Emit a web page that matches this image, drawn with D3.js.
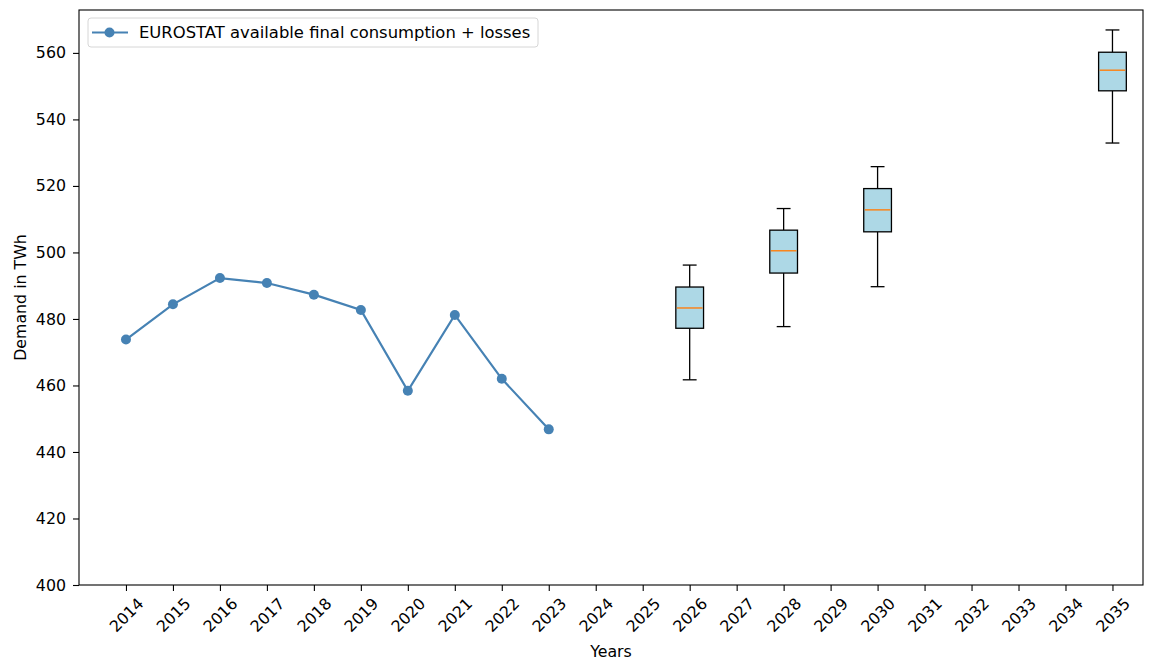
<!DOCTYPE html>
<html>
<head>
<meta charset="utf-8">
<script src="https://cdn.jsdelivr.net/npm/d3@7"></script>
<style>
  html, body { margin: 0; padding: 0; background: #fff; }
  svg { display: block; font-family: "DejaVu Sans", sans-serif; }
</style>
</head>
<body>
<svg id="chart" width="1155" height="660"></svg>
<script>
// Historical demand (EUROSTAT available final consumption + losses), TWh
const histYears = [2014, 2015, 2016, 2017, 2018, 2019, 2020, 2021, 2022, 2023];
const histValues = [473.8, 484.4, 492.3, 490.8, 487.3, 482.7, 458.4, 481.2, 462.0, 446.8];

// Projected demand distributions per target year, TWh
const boxYears = [2026, 2028, 2030, 2035];
const boxWhiskerLow = [461.7, 477.7, 489.7, 532.9];
const boxQ1 = [477.2, 493.8, 506.2, 548.6];
const boxMedian = [483.3, 500.5, 512.8, 554.8];
const boxQ3 = [489.6, 506.7, 519.2, 560.2];
const boxWhiskerHigh = [496.2, 513.2, 525.8, 566.9];

// Axis ticks
const xTickYears = d3.range(2014, 2036);
const yTicks = [400, 420, 440, 460, 480, 500, 520, 540, 560];

const legendLabel = "EUROSTAT available final consumption + losses";

const svg = d3.select("#chart");
const margin = { left: 79, right: 1143, top: 10, bottom: 585 };

const x = d3.scaleLinear().domain([2013, 2035.65]).range([margin.left, margin.right]);
const y = d3.scaleLinear().domain([400, 572.9]).range([margin.bottom, margin.top]);

const fontSize = 16.4;
const tickFont = 15.8;
const lineColor = "#4682b4";

// Axes
const xAxis = svg.append("g")
  .attr("transform", `translate(0,${margin.bottom})`)
  .call(d3.axisBottom(x).tickValues(xTickYears).tickFormat(d3.format("d")).tickSize(6).tickPadding(4));
xAxis.select(".domain").remove();
xAxis.selectAll(".tick line").attr("stroke", "#000").attr("stroke-width", 1.1);
xAxis.selectAll(".tick text")
  .attr("y", null).attr("dy", null)
  .attr("font-size", tickFont)
  .attr("font-family", "DejaVu Sans")
  .attr("fill", "#000")
  .attr("text-anchor", "middle")
  .attr("dominant-baseline", "central")
  .attr("transform", "translate(0,30) rotate(-45)");

const yAxis = svg.append("g")
  .attr("transform", `translate(${margin.left},0)`)
  .call(d3.axisLeft(y).tickValues(yTicks).tickFormat(d3.format("d")).tickSize(6).tickPadding(7));
yAxis.select(".domain").remove();
yAxis.selectAll(".tick line").attr("stroke", "#000").attr("stroke-width", 1.1);
yAxis.selectAll(".tick text")
  .attr("font-size", tickFont)
  .attr("font-family", "DejaVu Sans")
  .attr("fill", "#000");

// Axis titles
svg.append("text")
  .attr("x", (margin.left + margin.right) / 2)
  .attr("y", 657)
  .attr("text-anchor", "middle")
  .attr("font-size", tickFont)
  .attr("fill", "#000")
  .text("Years");

svg.append("text")
  .attr("transform", `translate(26,${(margin.top + margin.bottom) / 2}) rotate(-90)`)
  .attr("text-anchor", "middle")
  .attr("font-size", tickFont)
  .attr("fill", "#000")
  .text("Demand in TWh");

// Historical line with markers
const hist = histYears.map((yr, i) => ({ yr, v: histValues[i] }));
svg.append("path")
  .datum(hist)
  .attr("fill", "none")
  .attr("stroke", lineColor)
  .attr("stroke-width", 2.2)
  .attr("d", d3.line().x(d => x(d.yr)).y(d => y(d.v)));
svg.append("g").selectAll("circle")
  .data(hist)
  .join("circle")
  .attr("cx", d => x(d.yr))
  .attr("cy", d => y(d.v))
  .attr("r", 5)
  .attr("fill", lineColor);

// Box plots
const boxes = boxYears.map((yr, i) => ({
  yr,
  lo: boxWhiskerLow[i], q1: boxQ1[i], med: boxMedian[i], q3: boxQ3[i], hi: boxWhiskerHigh[i]
}));
const boxWidth = 0.59;
const capWidth = boxWidth / 2;
const strokeW = 1.3;
const bg = svg.append("g").selectAll("g").data(boxes).join("g");
bg.append("line")
  .attr("x1", d => x(d.yr)).attr("x2", d => x(d.yr))
  .attr("y1", d => y(d.lo)).attr("y2", d => y(d.q1))
  .attr("stroke", "#000").attr("stroke-width", strokeW);
bg.append("line")
  .attr("x1", d => x(d.yr)).attr("x2", d => x(d.yr))
  .attr("y1", d => y(d.q3)).attr("y2", d => y(d.hi))
  .attr("stroke", "#000").attr("stroke-width", strokeW);
bg.append("line")
  .attr("x1", d => x(d.yr - capWidth / 2)).attr("x2", d => x(d.yr + capWidth / 2))
  .attr("y1", d => y(d.lo)).attr("y2", d => y(d.lo))
  .attr("stroke", "#000").attr("stroke-width", strokeW);
bg.append("line")
  .attr("x1", d => x(d.yr - capWidth / 2)).attr("x2", d => x(d.yr + capWidth / 2))
  .attr("y1", d => y(d.hi)).attr("y2", d => y(d.hi))
  .attr("stroke", "#000").attr("stroke-width", strokeW);
bg.append("rect")
  .attr("x", d => x(d.yr - boxWidth / 2))
  .attr("width", d => x(d.yr + boxWidth / 2) - x(d.yr - boxWidth / 2))
  .attr("y", d => y(d.q3))
  .attr("height", d => y(d.q1) - y(d.q3))
  .attr("fill", "#add8e6")
  .attr("stroke", "#000").attr("stroke-width", strokeW);
bg.append("line")
  .attr("x1", d => x(d.yr - boxWidth / 2) + 1).attr("x2", d => x(d.yr + boxWidth / 2) - 1)
  .attr("y1", d => y(d.med)).attr("y2", d => y(d.med))
  .attr("stroke", "#ff7f0e").attr("stroke-width", 1.4);

// Plot frame
svg.append("rect")
  .attr("x", margin.left).attr("y", margin.top)
  .attr("width", margin.right - margin.left)
  .attr("height", margin.bottom - margin.top)
  .attr("fill", "none")
  .attr("stroke", "#000")
  .attr("stroke-width", 1.1);

// Legend
const lg = svg.append("g").attr("transform", "translate(88,18)");
lg.append("rect")
  .attr("width", 450).attr("height", 29)
  .attr("rx", 3).attr("ry", 3)
  .attr("fill", "#fff").attr("fill-opacity", 0.8)
  .attr("stroke", "#d6d6d6").attr("stroke-width", 1);
lg.append("line")
  .attr("x1", 4).attr("x2", 40).attr("y1", 14.5).attr("y2", 14.5)
  .attr("stroke", lineColor).attr("stroke-width", 2.2);
lg.append("circle").attr("cx", 21.5).attr("cy", 14.5).attr("r", 5).attr("fill", lineColor);
lg.append("text")
  .attr("x", 51).attr("y", 14.5)
  .attr("dominant-baseline", "central")
  .attr("font-size", fontSize)
  .attr("fill", "#000")
  .text(legendLabel);
</script>
</body>
</html>
